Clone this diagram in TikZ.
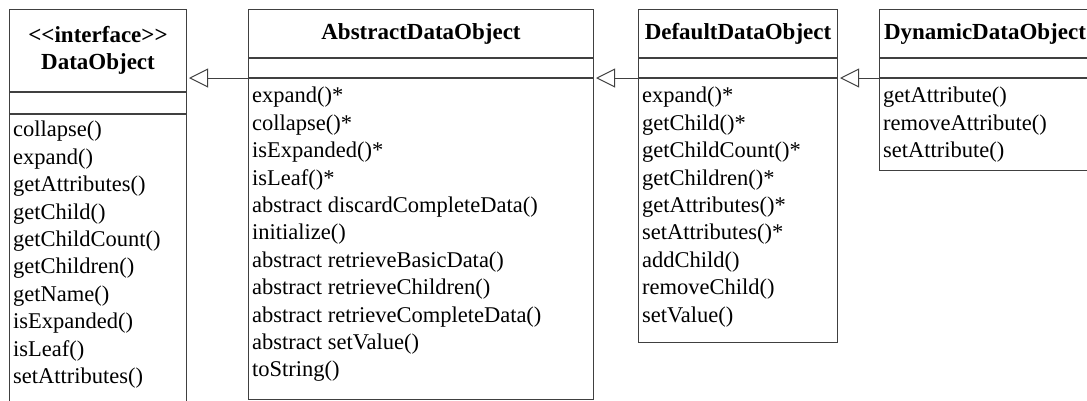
\documentclass[tikz,border=0pt]{standalone}
\usepackage{fontspec}
\setmainfont{Liberation Serif}
\usetikzlibrary{arrows.meta,positioning}

\begin{document}
\begin{tikzpicture}[x=1pt,y=-1pt,
  font=\fontsize{22.5}{27.4}\selectfont,
  part/.style={draw=black!75, line width=1pt, inner sep=0pt},
  title/.style={part, font=\fontsize{23}{27}\selectfont\bfseries, align=center},
  ops/.style={anchor=north west, align=left, inner xsep=4pt, inner ysep=9pt},
  gen/.style={draw=black!75, line width=1pt, -{Triangle[open, length=19pt, width=19pt]}, shorten >=2pt}]
\useasboundingbox (0,0) rectangle (1087,400);

% DataObject
\node[title, anchor=north west, minimum width=177pt, minimum height=82pt] (dataT) at (9,9) {<\kern0pt<interface>\kern0pt>\\DataObject};
\node[part, minimum width=177pt, minimum height=21pt, below=0pt of dataT] (dataA) {};
\node[part, minimum width=177pt, minimum height=300pt, below=0pt of dataA] (dataM) {};
\node[ops, inner ysep=7pt] (dataOps) at (dataM.north west) {collapse()\\expand()\\getAttributes()\\getChild()\\getChildCount()\\getChildren()\\getName()\\isExpanded()\\isLeaf()\\setAttributes()};

% AbstractDataObject
\node[title, anchor=north west, minimum width=345pt, minimum height=48pt] (absT) at (248,9) {AbstractDataObject};
\node[part, minimum width=345pt, minimum height=19pt, below=0pt of absT] (absA) {};
\node[part, minimum width=345pt, minimum height=321pt, below=0pt of absA] (absM) {};
\node[ops] (absOps) at (absM.north west) {expand()*\\collapse()*\\isExpanded()*\\isLeaf()*\\abstract discardCompleteData()\\initialize()\\abstract retrieveBasicData()\\abstract retrieveChildren()\\abstract retrieveCompleteData()\\abstract setValue()\\toString()};

% DefaultDataObject
\node[title, anchor=north west, minimum width=199pt, minimum height=48pt] (defT) at (638,9) {DefaultDataObject};
\node[part, minimum width=199pt, minimum height=19pt, below=0pt of defT] (defA) {};
\node[part, minimum width=199pt, minimum height=264pt, below=0pt of defA] (defM) {};
\node[ops] (defOps) at (defM.north west) {expand()*\\getChild()*\\getChildCount()*\\getChildren()*\\getAttributes()*\\setAttributes()*\\addChild()\\removeChild()\\setValue()};

% DynamicDataObject
\node[title, anchor=north west, minimum width=211pt, minimum height=48pt] (dynT) at (879,9) {DynamicDataObject};
\node[part, minimum width=211pt, minimum height=19pt, below=0pt of dynT] (dynA) {};
\node[part, minimum width=211pt, minimum height=92pt, below=0pt of dynA] (dynM) {};
\node[ops] (dynOps) at (dynM.north west) {getAttribute()\\removeAttribute()\\setAttribute()};

% generalisation arrows
\draw[gen] (absA.south west) -- (dataT.east |- absA.south west);
\draw[gen] (defA.south west) -- (absA.south east);
\draw[gen] (dynA.south west) -- (defA.south east);
\end{tikzpicture}
\end{document}
